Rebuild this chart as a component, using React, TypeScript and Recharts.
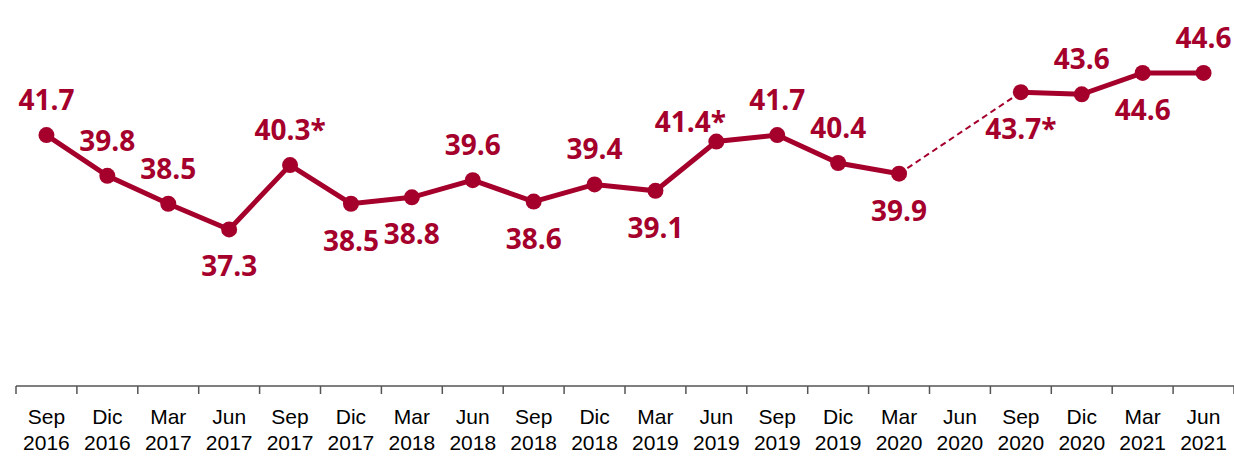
import { LineChart, Line, XAxis, YAxis, LabelList } from 'recharts';

const months = ['Sep', 'Dic', 'Mar', 'Jun', 'Sep', 'Dic', 'Mar', 'Jun', 'Sep', 'Dic', 'Mar', 'Jun', 'Sep', 'Dic', 'Mar', 'Jun', 'Sep', 'Dic', 'Mar', 'Jun'];
const years = ['2016', '2016', '2017', '2017', '2017', '2017', '2018', '2018', '2018', '2018', '2019', '2019', '2019', '2019', '2020', '2020', '2020', '2020', '2021', '2021'];
const values = [41.7, 39.8, 38.5, 37.3, 40.3, 38.5, 38.8, 39.6, 38.6, 39.4, 39.1, 41.4, 41.7, 40.4, 39.9, null, 43.7, 43.6, 44.6, 44.6];
// starred estimates
const starred = [4, 11, 16];
// dashed bridge across the missing quarter
const bridge = [null, null, null, null, null, null, null, null, null, null, null, null, null, null, 39.9, null, 43.7, null, null, null];
// label above (-1) or below (1) the point
const labelSide = [-1, -1, -1, 1, -1, 1, 1, -1, 1, -1, 1, -1, -1, -1, 1, 1, 1, -1, 1, -1];

const RED = '#A5002C';

const data = values.map((v, i) => ({ x: i, value: v, bridge: bridge[i] }));
const ticks = months.flatMap((_, i) => (i === 0 ? [i - 0.5, i, i + 0.5] : [i, i + 0.5]));

const AxisTick = (props: any) => {
  const { x, y, payload } = props;
  const v = payload.value;
  if (!Number.isInteger(v)) {
    return <line x1={x} x2={x} y1={y} y2={y + 8} stroke="#555" strokeWidth={1.5} />;
  }
  return (
    <text x={x} y={y} textAnchor="middle" fill="#000" fontFamily="'Liberation Sans', Arial, sans-serif" fontSize={21}>
      <tspan x={x} dy={38}>{months[v]}</tspan>
      <tspan x={x} dy={26}>{years[v]}</tspan>
    </text>
  );
};

const PointLabel = (props: any) => {
  const { x, y, value, index } = props;
  if (value == null) return null;
  const side = labelSide[index];
  // the Jun 2019 label sits tucked left so it clears its neighbour
  const tucked = index === 11;
  return (
    <text
      x={tucked ? x - 26 : x}
      y={y + side * (tucked ? 21 : 36)}
      textAnchor="middle"
      dominantBaseline="central"
      fill={RED}
      fontFamily="'Open Sans', sans-serif"
      fontWeight={700}
      fontSize={28}
    >
      {value.toFixed(1)}{starred.includes(index) ? '*' : ''}
    </text>
  );
};

export default function App() {
  return (
    <div style={{ position: 'absolute', left: 0, top: 0, background: '#fff' }}>
      <LineChart width={1234} height={469} data={data} margin={{ top: 0, right: 0, left: 16, bottom: 0 }}>
        <XAxis
          dataKey="x"
          type="number"
          domain={[-0.5, 19.5]}
          ticks={ticks}
          interval={0}
          height={83}
          tickSize={0}
          tickMargin={0}
          tickLine={false}
          axisLine={{ stroke: '#555', strokeWidth: 1.5 }}
          tick={<AxisTick />}
        />
        <YAxis hide domain={[30, 48]} />
        <Line
          dataKey="bridge"
          stroke={RED}
          strokeWidth={2}
          strokeDasharray="6 4"
          connectNulls
          dot={false}
          activeDot={false}
          isAnimationActive={false}
        />
        <Line
          dataKey="value"
          stroke={RED}
          strokeWidth={5}
          dot={{ r: 8, fill: RED, stroke: 'none' }}
          activeDot={false}
          isAnimationActive={false}
        >
          <LabelList dataKey="value" content={<PointLabel />} />
        </Line>
      </LineChart>
    </div>
  );
}
